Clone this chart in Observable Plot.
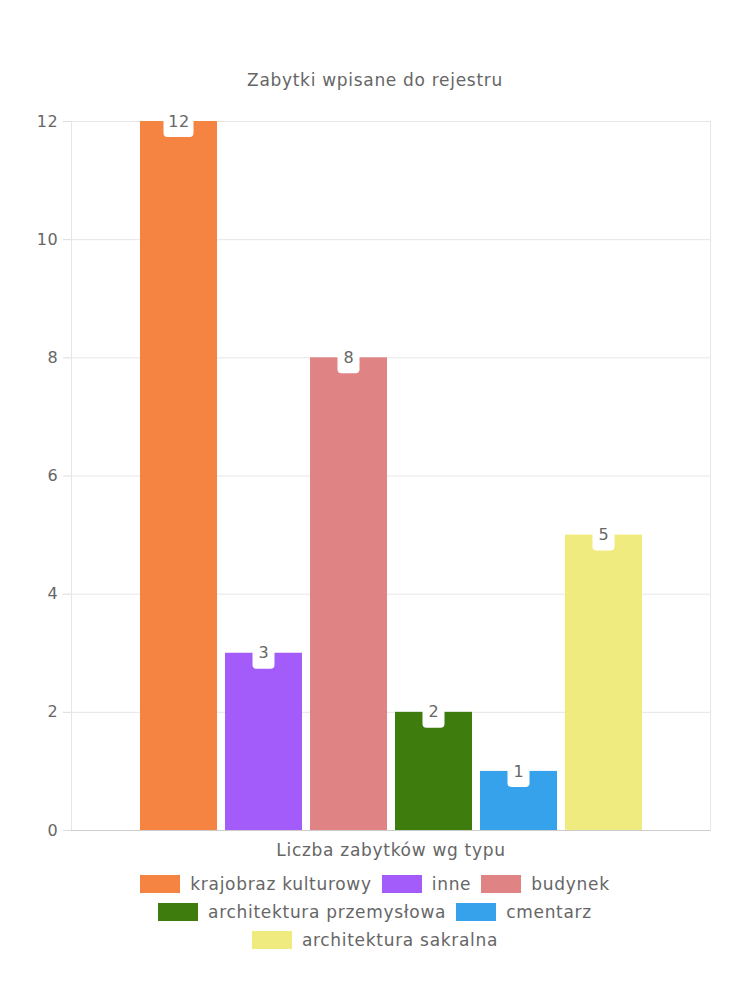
<!DOCTYPE html>
<html>
<head>
<meta charset="utf-8">
<script src="https://cdn.jsdelivr.net/npm/d3@7"></script>
<script src="https://cdn.jsdelivr.net/npm/@observablehq/plot@0.6"></script>
<style>
  html, body { margin: 0; padding: 0; background: white; }
  #wrap { position: relative; width: 750px; height: 1000px; font-family: "DejaVu Sans", sans-serif; color: #666; letter-spacing: 0.7px; }
  #title { position: absolute; top: 69px; left: 0; width: 750px; text-align: center; font-size: 17px; line-height: 22px; }
  #chart { position: absolute; top: 0; left: 0; }
  #legend { position: absolute; top: 870px; left: 0; width: 750px; font-size: 17px; }
  .row { display: flex; justify-content: center; height: 28px; align-items: center; }
  .item { display: flex; align-items: center; margin: 0 5px; }
  .box { width: 40px; height: 18px; margin-right: 10px; }
</style>
</head>
<body>
<div id="wrap">
  <div id="title"></div>
  <div id="chart"></div>
  <div id="legend"></div>
</div>
<script>
const titleText = "Zabytki wpisane do rejestru";
const xLabel = "Liczba zabytków wg typu";
const categories = ["krajobraz kulturowy", "inne", "budynek", "architektura przemysłowa", "cmentarz", "architektura sakralna"];
const values = [12, 3, 8, 2, 1, 5];
const colors = ["#F58341", "#A35CFA", "#E08384", "#3E7D0D", "#36A2EB", "#F0EB7E"];
const yTicks = [0, 2, 4, 6, 8, 10, 12];
const legendRows = [[0, 1, 2], [3, 4], [5]];

const data = categories.map((c, i) => ({cat: c, value: values[i], color: colors[i]}));
const font = "DejaVu Sans, sans-serif";

document.getElementById("title").textContent = titleText;

const plot = Plot.plot({
  width: 750,
  height: 870,
  marginTop: 121,
  marginBottom: 40,
  marginLeft: 71,
  marginRight: 40,
  style: {fontFamily: font, fontSize: "16px", color: "#666", background: "transparent", overflow: "visible", letterSpacing: "0.7px"},
  x: {domain: categories, paddingInner: 0.1, paddingOuter: 0.05, insetLeft: 63.9, insetRight: 63.9, axis: null},
  y: {domain: [0, 12], axis: null},
  color: {domain: categories, range: colors},
  marks: [
    Plot.gridY(yTicks, {stroke: "#e6e6e6", strokeOpacity: 1}),
    Plot.frame({stroke: "#e6e6e6"}),
    Plot.barY(data, {x: "cat", y: "value", fill: "cat"}),
    Plot.axisY(yTicks, {tickSize: 8, tickPadding: 5, tickFormat: d3.format("d"), stroke: "#ddd", strokeOpacity: 1, fill: "#666", fontSize: 16, label: null}),
    Plot.ruleY([0], {stroke: "#ccc"}),
    Plot.barY(data.filter(d => String(d.value).length > 1), {x: "cat", y1: "value", y2: "value", fill: "white", insetTop: -11, insetBottom: -16, insetLeft: 23.5, insetRight: 23.5, rx: 4}),
    Plot.barY(data.filter(d => String(d.value).length === 1), {x: "cat", y1: "value", y2: "value", fill: "white", insetTop: -11, insetBottom: -16, insetLeft: 27.5, insetRight: 27.5, rx: 4}),
    Plot.text(data, {x: "cat", y: "value", text: d => String(d.value), fill: "#666", fontSize: 16, dy: 0}),
    Plot.text([xLabel], {frameAnchor: "bottom", dy: 25, fill: "#666", fontSize: 17})
  ]
});
document.getElementById("chart").appendChild(plot);

const legend = document.getElementById("legend");
legendRows.forEach(row => {
  const r = document.createElement("div");
  r.className = "row";
  row.forEach(i => {
    const it = document.createElement("div");
    it.className = "item";
    const b = document.createElement("span");
    b.className = "box";
    b.style.background = colors[i];
    const t = document.createElement("span");
    t.textContent = categories[i];
    it.appendChild(b);
    it.appendChild(t);
    r.appendChild(it);
  });
  legend.appendChild(r);
});
</script>
</body>
</html>
